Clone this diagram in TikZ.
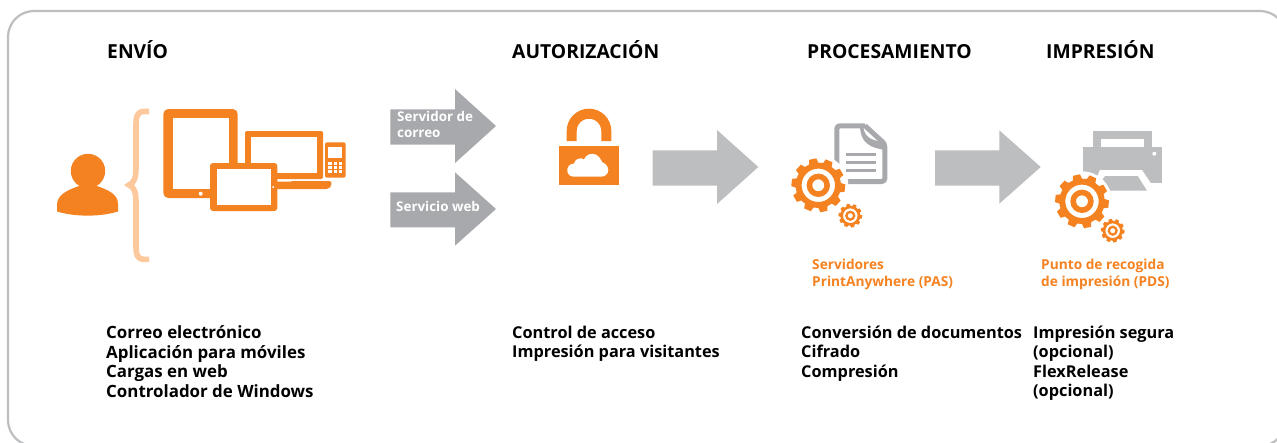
\documentclass[tikz,border=0pt]{standalone}
\usepackage{fontspec}
\setmainfont{Open Sans}
\definecolor{org}{HTML}{F58220}
\definecolor{lorg}{HTML}{FDC89B}
\definecolor{gA}{HTML}{A7A9AC}
\definecolor{gB}{HTML}{BCBEC0}
\tikzset{
  hdr/.style={anchor=base west,inner sep=0pt,font=\bfseries\fontsize{19.3}{22}\selectfont,text=black},
  lst/.style={anchor=north west,inner sep=0pt,align=left,font=\bfseries\fontsize{16.3}{19.6}\selectfont,text=black},
  olab/.style={anchor=north west,inner sep=0pt,align=left,font=\bfseries\fontsize{13.7}{17.3}\selectfont,text=org},
  wlab/.style={anchor=north west,inner sep=0pt,align=left,font=\bfseries\fontsize{13.4}{16}\selectfont,text=white},
}
% \mygear{x}{y}{scale}
\newcommand{\mygear}[3]{%
  \begin{scope}[shift={(#1,#2)},scale=#3]
    \fill[white] (0,0) circle (30);
    \foreach \a in {0,36,...,324}{
      \fill[org,rotate=\a+12] (-5.2,-20) -- (-3.6,-26.8) -- (3.6,-26.8) -- (5.2,-20) -- cycle;
    }
    \fill[org,even odd rule] (0,0) circle (22.7) (0,0) circle (16.7);
    \fill[org,even odd rule] (0,0) circle (11.7) (0,0) circle (6);
  \end{scope}}
\begin{document}
\begin{tikzpicture}[x=1pt,y=-1pt]
\useasboundingbox (0,0) rectangle (1277,442);
\clip (0,0) rectangle (1277,442);
\fill[white] (0,0) rectangle (1277,442);
\draw[gB,line width=2.2pt,rounded corners=26pt] (8,11) rectangle (1286,446);

% person
\fill[org] (88,171) circle (17.2);
\fill[org] (57,211.5) -- (57,204) .. controls (58,194) and (68,190) .. (79,186) -- (97,186) .. controls (108,190) and (118,194) .. (118,204) -- (118,211.5) .. controls (100,217) and (75,217) .. (57,211.5) -- cycle;
% brace
\draw[lorg,line width=5.6pt] (149,111.5) -- (144,111.5) .. controls (137,111.5) and (136,117) .. (136,124) -- (136,168) .. controls (136,178) and (134,183) .. (129,185) .. controls (134,187) and (136,192) .. (136,202) -- (136,246) .. controls (136,254) and (137,259.3) .. (144,259.3) -- (149,259.3);

% tablet
\fill[org,rounded corners=5pt] (163.3,109) rectangle (237.7,198);
\fill[white] (173,118.3) rectangle (229,189);
\fill[white] (200.7,193.7) circle (2);
% laptop
\fill[org,rounded corners=2pt] (245,131) rectangle (323,179);
\fill[white] (251.3,136.7) rectangle (317.3,173.3);
\fill[org,rounded corners=1.5pt] (276,181.7) -- (292,181.7) -- (293,181) -- (331.3,181) -- (331.3,186) -- (328,189) -- (276,189) -- cycle;
% small tablet
\fill[org,rounded corners=3pt] (210,163) rectangle (277.3,211);
\fill[white] (217.3,169) rectangle (270.7,205);
\fill[white] (273.2,187) circle (1.2);
% phone
\fill[org,rounded corners=2pt] (325,142.3) rectangle (345.7,177.7);
\fill[white] (328.3,147) rectangle (342.3,158.3);
\foreach \cx in {328.3,333.8,338.8}{
  \foreach \cy in {162,166.3,170.3}{
    \fill[white] (\cx,\cy) rectangle +(3.6,2.8);
  }
}

% arrows
\fill[gA] (390.3,109.3) -- (455,109.3) -- (455,89) -- (496,126) -- (455,163) -- (455,144.7) -- (390.3,144.7) -- cycle;
\fill[gA] (390.3,192.3) -- (455,192.3) -- (455,172.3) -- (496,209) -- (455,245.7) -- (455,227.3) -- (390.3,227.3) -- cycle;
\fill[gB] (652.7,150.3) -- (717,150.3) -- (717,130) -- (758.3,167) -- (717,204) -- (717,185.7) -- (652.7,185.7) -- cycle;
\fill[gB] (935,150.3) -- (999.3,150.3) -- (999.3,130.3) -- (1040.7,167) -- (999.3,203.7) -- (999.3,185.7) -- (935,185.7) -- cycle;
\node[wlab] (srv) at (397,111) {Servidor de\\correo};
\node[wlab] (web) at (396,201) {Servicio web};

% lock
\fill[org] (559,146) rectangle (618.7,185);
\draw[org,line width=10pt] (571.7,141) -- (571.7,131) arc[start angle=180,end angle=360,radius=17.3] -- (606.3,141);
\fill[white] (574,176.7) .. controls (565,176.7) and (565,164) .. (574,163.5) .. controls (575,158.5) and (581,157) .. (584,159.5) .. controls (587,152) and (598,151) .. (602,162) .. controls (604,163) and (608,165) .. (608.3,170) .. controls (608.3,174) and (605,176.7) .. (601,176.7) -- cycle;

% document
\draw[gA,line width=5pt,line join=round,rounded corners=3pt] (865,125.8) -- (836.8,125.8) -- (836.8,181.5) -- (884.8,181.5) -- (884.8,144) -- (865,125.8);
\fill[gA] (863,125) .. controls (864,135) and (868,141) .. (886,142) -- (886,150) .. controls (870,148) and (860,143) .. (860,125) -- cycle;
\draw[gA,line width=2.6pt] (846,154.3) -- (876,154.3) (846,162.7) -- (876,162.7) (846,170.7) -- (876,170.7);
\mygear{818.3}{185.3}{1}
\mygear{850.3}{215.7}{0.44}

% printer
\fill[gB] (1093.3,131) rectangle (1152,147);
\fill[white] (1100.7,138.7) rectangle (1144.3,147);
\fill[gB] (1082.7,147) rectangle (1162.3,183.3);
\fill[white] (1094,183.5) -- (1100,170) -- (1142,170) -- (1151,183.5) -- cycle;
\fill[gB] (1105,176) -- (1137.7,176) -- (1147,190.7) -- (1095,190.7) -- cycle;
\fill[white] (1154.3,153.7) circle (2);
\mygear{1082}{201.3}{1}
\mygear{1112.7}{230.7}{0.44}

% headers
\node[hdr] (h1) at (107,58) {ENVÍO};
\node[hdr] (h2) at (512,58) {AUTORIZACIÓN};
\node[hdr] (h3) at (807,58) {PROCESAMIENTO};
\node[hdr] (h4) at (1046,58) {IMPRESIÓN};

% orange labels
\node[olab] (o1) at (812,259) {Servidores\\PrintAnywhere (PAS)};
\node[olab] (o2) at (1041,259) {Punto de recogida\\de impresión (PDS)};

% lists
\node[lst,font=\bfseries\fontsize{16.9}{19.6}\selectfont] (l1) at (106,325.5) {Correo electrónico\\Aplicación para móviles\\Cargas en web\\Controlador de Windows};
\node[lst] (l2) at (512,325.5) {Control de acceso\\Impresión para visitantes};
\node[lst] (l3) at (801,325.5) {Conversión de documentos\\Cifrado\\Compresión};
\node[lst] (l4) at (1033,325.5) {Impresión segura\\(opcional)\\FlexRelease\\(opcional)};
\end{tikzpicture}
\end{document}
